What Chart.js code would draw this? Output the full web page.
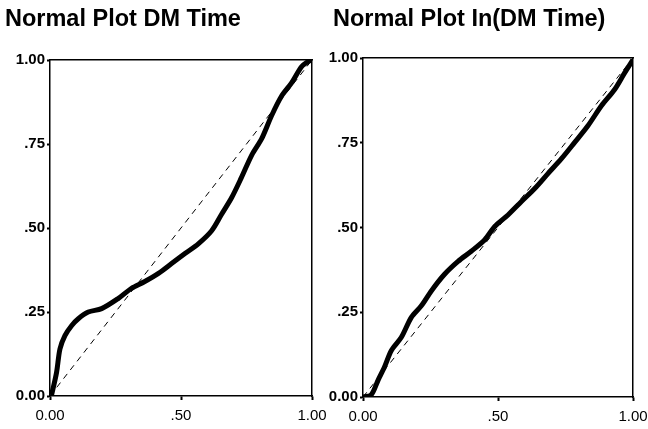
<!DOCTYPE html>
<html>
<head>
<meta charset="utf-8">
<script src="https://cdn.jsdelivr.net/npm/chart.js@4.4.0/dist/chart.umd.min.js"></script>
<style>
    html, body { margin: 0; padding: 0; background: #fff; }
    body { width: 648px; height: 429px; position: relative; overflow: hidden; }
    .panel { position: absolute; top: 0; height: 429px; }
    #leftPanel { left: 0; width: 340px; }
    #rightPanel { left: 310px; width: 350px; }
</style>
</head>
<body>
<div class="panel" id="leftPanel"><canvas id="dmChart"></canvas></div>
<div class="panel" id="rightPanel"><canvas id="lnChart"></canvas></div>
<script>
// tick positions and labels
const xTickValues = [0, 0.5, 1];
const xTickLabels = ['0.00', '.50', '1.00'];
const yTickValues = [0, 0.25, 0.5, 0.75, 1];
const yTickLabels = ['0.00', '.25', '.50', '.75', '1.00'];

// P-P plot of DM time: observed cum prob (x) vs expected cum prob (y)
const dmObserved = [0.006, 0.025, 0.038, 0.057, 0.083, 0.108, 0.146, 0.197, 0.26, 0.31, 0.36, 0.414,
    0.464, 0.515, 0.566, 0.617, 0.655, 0.693, 0.73, 0.77, 0.808, 0.846, 0.884, 0.922, 0.96, 0.986, 1.0];
const dmExpected = [0.003, 0.07, 0.14, 0.18, 0.21, 0.23, 0.25, 0.26, 0.29, 0.32, 0.34, 0.365,
    0.394, 0.424, 0.453, 0.492, 0.541, 0.59, 0.649, 0.717, 0.766, 0.835, 0.893, 0.932, 0.98, 0.996, 1.0];

// P-P plot of ln(DM time)
const lnObserved = [0.0, 0.03, 0.056, 0.08, 0.105, 0.142, 0.179, 0.216, 0.253, 0.302, 0.352, 0.401,
    0.451, 0.488, 0.537, 0.586, 0.636, 0.685, 0.735, 0.784, 0.833, 0.883, 0.932, 0.969, 1.0];
const lnExpected = [0.0, 0.006, 0.05, 0.089, 0.137, 0.176, 0.235, 0.269, 0.313, 0.362, 0.40, 0.43,
    0.464, 0.503, 0.537, 0.576, 0.615, 0.659, 0.703, 0.751, 0.80, 0.859, 0.907, 0.956, 0.995];

// diagonal reference line
const refLine = [0, 1];

const INK = '#000';
const FONT = '"Liberation Sans", Arial, sans-serif';

function toPoints(xs, ys) {
    return xs.map((x, i) => ({ x: x, y: ys[i] }));
}

function fixedTicks(values) {
    return (scale) => { scale.ticks = values.map(v => ({ value: v })); };
}

// nudge the title sideways, the y axis box has to stay wide enough for its labels
const titleShift = {
    id: 'titleShift',
    afterLayout(chart, args, opts) {
        if (chart.titleBlock && opts.dx) {
            chart.titleBlock.left += opts.dx;
        }
    }
};

function createPPChart(canvasId, title, xs, ys, layout) {
    const ctx = document.getElementById(canvasId).getContext('2d');

    const frameAxis = (position) => ({
        type: 'linear',
        position: position,
        min: 0,
        max: 1,
        ticks: { display: false },
        grid: { display: false },
        border: { display: true, color: INK, width: 1.5 },
        afterFit: (scale) => {
            if (position === 'top') scale.height = 0;
            else scale.width = 0;
        }
    });

    return new Chart(ctx, {
        type: 'scatter',
        data: {
            datasets: [{
                data: toPoints(xs, ys),
                showLine: true,
                borderColor: INK,
                borderWidth: 5,
                pointRadius: 0,
                tension: 0.3,
                order: 1
            }, {
                data: toPoints(refLine, refLine),
                showLine: true,
                borderColor: INK,
                borderWidth: 1,
                borderDash: [6, 5],
                pointRadius: 0,
                order: 2
            }]
        },
        plugins: [titleShift],
        options: {
            responsive: true,
            maintainAspectRatio: false,
            animation: false,
            layout: {
                padding: { left: layout.padLeft, right: layout.padRight, top: 0, bottom: 0 }
            },
            plugins: {
                legend: { display: false },
                tooltip: { enabled: false },
                titleShift: { dx: layout.titleShift },
                title: {
                    display: true,
                    text: title,
                    align: 'start',
                    color: INK,
                    font: { family: FONT, size: 23.5, weight: 'bold', lineHeight: 1.2 },
                    padding: { top: 5, bottom: layout.titleBottom }
                }
            },
            scales: {
                x: {
                    type: 'linear',
                    min: 0,
                    max: 1,
                    afterBuildTicks: fixedTicks(xTickValues),
                    afterFit: (scale) => { scale.height = layout.xHeight; },
                    ticks: {
                        color: INK,
                        padding: 7,
                        maxRotation: 0,
                        autoSkip: false,
                        font: { family: FONT, size: 15 },
                        callback: (value) => xTickLabels[xTickValues.indexOf(value)]
                    },
                    grid: { drawOnChartArea: false, tickLength: 4, tickWidth: 2, tickColor: INK },
                    border: { color: INK, width: 1.5 }
                },
                y: {
                    type: 'linear',
                    min: 0,
                    max: 1,
                    afterBuildTicks: fixedTicks(yTickValues),
                    afterFit: (scale) => { scale.width = layout.yWidth; },
                    ticks: {
                        color: INK,
                        padding: 2,
                        autoSkip: false,
                        font: { family: FONT, size: 15, weight: 'bold' },
                        callback: (value) => yTickLabels[yTickValues.indexOf(value)]
                    },
                    grid: { drawOnChartArea: false, tickLength: 3, tickWidth: 2, tickColor: INK },
                    border: { color: INK, width: 1.5 }
                },
                xTop: frameAxis('top'),
                yRight: frameAxis('right')
            }
        }
    });
}

createPPChart('dmChart', 'Normal Plot DM Time', dmObserved, dmExpected, {
    padLeft: 5, padRight: 28, yWidth: 45, xHeight: 33, titleBottom: 26.8, titleShift: 0
});

createPPChart('lnChart', 'Normal Plot In(DM Time)', lnObserved, lnExpected, {
    padLeft: 6, padRight: 27, yWidth: 47, xHeight: 32, titleBottom: 24.8, titleShift: 17
});
</script>
</body>
</html>
